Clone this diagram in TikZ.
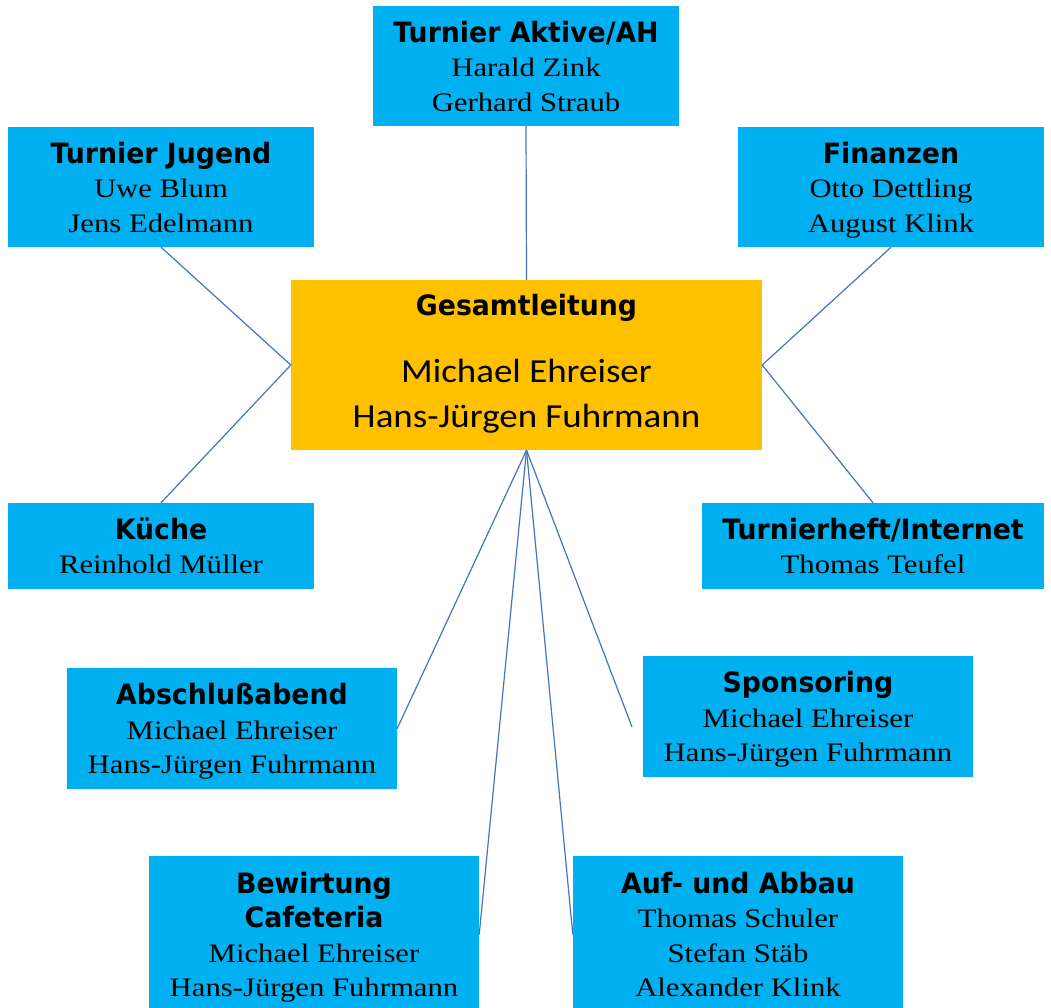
\documentclass[tikz,border=0pt]{standalone}
\usepackage{fontspec}
\setmainfont{Liberation Serif}
\newfontfamily\ttlfont{DejaVu Sans Bold}[FakeStretch=0.955]
\newfontfamily\nmfont{Liberation Serif}[FakeStretch=1.15]
\newfontfamily\gnfont{Carlito}[FakeStretch=1.1]
\definecolor{boxblue}{HTML}{00B0F0}
\definecolor{boxgold}{HTML}{FFC000}
\definecolor{linkblue}{HTML}{4472C4}
\newcommand{\ttl}{\ttlfont\fontsize{28}{34.5}\selectfont}
\newcommand{\nm}{\nmfont\fontsize{26.7}{34.5}\selectfont}
\newcommand{\topstrut}{\rule{0pt}{28pt}}
\newcommand{\botstrut}{\rule[-7pt]{0pt}{7pt}}
\tikzset{
  unit box/.style={fill=boxblue, draw=none, inner sep=0pt, align=center,
    font=\fontsize{26.7}{34.5}\selectfont},
  main box/.style={fill=boxgold, draw=none, inner sep=0pt, align=center,
    font=\fontsize{33.6}{45}\selectfont},
  link/.style={draw=linkblue, line width=1.2pt}
}
\begin{document}
\begin{tikzpicture}[x=1pt,y=-1pt]
\useasboundingbox (0,0) rectangle (1051,1007);
\clip (0,0) rectangle (1051,1007);
\fill[white] (0,0) rectangle (1051,1007);

\node[main box, minimum width=471pt, minimum height=170pt] (gesamt) at (526.5,365)
  {\rule{0pt}{22pt}{\ttlfont\fontsize{28}{45}\selectfont Gesamtleitung}\\[22pt]
   \gnfont Michael Ehreiser\\
   \gnfont Hans-Jürgen Fuhrmann\rule[-10pt]{0pt}{10pt}};

\node[unit box, minimum width=306pt, minimum height=120pt] (aktive) at (526,66)
  {\topstrut\ttl Turnier Aktive/AH\\ \nm Harald Zink\\ \nm Gerhard Straub\botstrut};
\node[unit box, minimum width=306pt, minimum height=120pt] (jugend) at (161,187)
  {\topstrut\ttl Turnier Jugend\\ \nm Uwe Blum\\ \nm Jens Edelmann\botstrut};
\node[unit box, minimum width=306pt, minimum height=120pt] (finanzen) at (891,187)
  {\topstrut\ttl Finanzen\\ \nm Otto Dettling\\ \nm August Klink\botstrut};
\node[unit box, minimum width=306pt, minimum height=86pt] (kueche) at (161,546)
  {\topstrut\ttl Küche\\ \nm Reinhold Müller\botstrut};
\node[unit box, minimum width=342pt, minimum height=86pt] (heft) at (873,546)
  {\topstrut\ttl Turnierheft/Internet\\ \nm Thomas Teufel\botstrut};
\node[unit box, minimum width=330pt, minimum height=121pt] (abschluss) at (232,728.5)
  {\topstrut\ttl Abschlußabend\\ \nm Michael Ehreiser\\ \nm Hans-Jürgen Fuhrmann\botstrut};
\node[unit box, minimum width=330pt, minimum height=121pt] (sponsoring) at (808,716.5)
  {\topstrut\ttl Sponsoring\\ \nm Michael Ehreiser\\ \nm Hans-Jürgen Fuhrmann\botstrut};
\node[unit box, minimum width=330pt, minimum height=157pt] (bewirtung) at (314,934.5)
  {\topstrut\ttl Bewirtung\\ \ttl Cafeteria\\ \nm Michael Ehreiser\\ \nm Hans-Jürgen Fuhrmann\botstrut};
\node[unit box, minimum width=330pt, minimum height=157pt] (aufbau) at (738,934.5)
  {\topstrut\ttl Auf- und Abbau\\ \nm Thomas Schuler\\ \nm Stefan Stäb\\ \nm Alexander Klink\botstrut};

\coordinate (sponend) at (632,727);

\draw[link] (aktive.south) -- (gesamt.north);
\draw[link] (jugend.south) -- (gesamt.west);
\draw[link] (kueche.north) -- (gesamt.west);
\draw[link] (finanzen.south) -- (gesamt.east);
\draw[link] (heft.north) -- (gesamt.east);
\draw[link] (abschluss.east) -- (gesamt.south);
\draw[link] (sponend) -- (gesamt.south);
\draw[link] (bewirtung.east) -- (gesamt.south);
\draw[link] (aufbau.west) -- (gesamt.south);
\end{tikzpicture}
\end{document}
